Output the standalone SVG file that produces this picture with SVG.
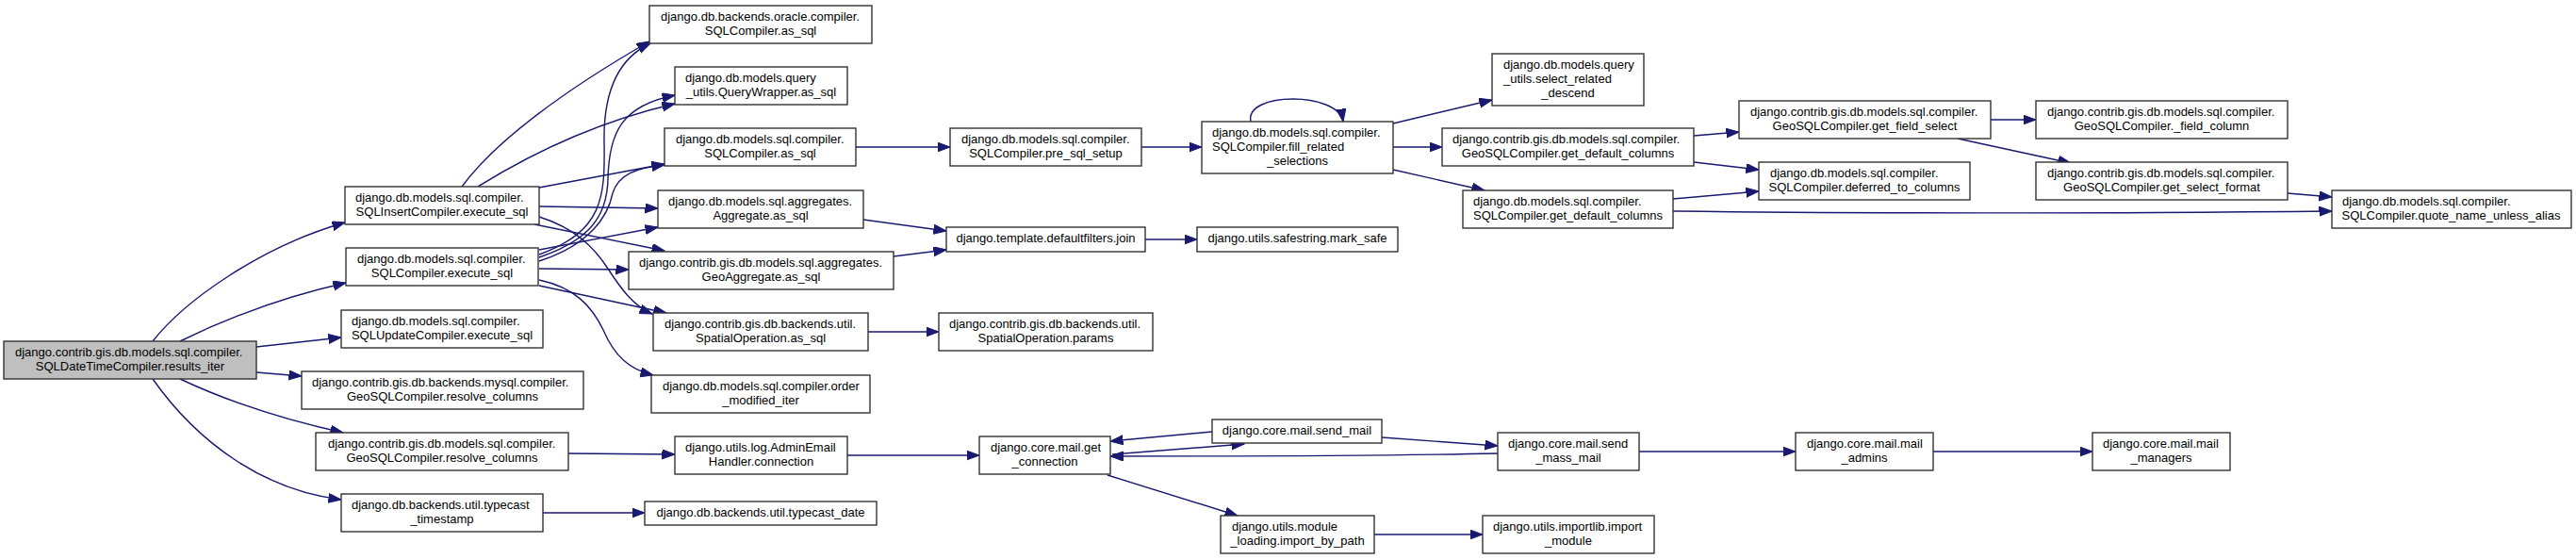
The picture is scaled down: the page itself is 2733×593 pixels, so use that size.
<svg xmlns="http://www.w3.org/2000/svg" width="2733" height="593" viewBox="0 0 2733 593">
<style>
.n rect{fill:#fff;stroke:#333;stroke-width:1.4}
.r rect{fill:#bfbfbf}
text{font-family:"Liberation Sans",Arial,Helvetica,sans-serif;font-size:13px;fill:#000}
.m{text-anchor:middle}
#edges path{fill:none;stroke:#191970;stroke-width:1.4;marker-end:url(#ah)}
</style>
<defs>
<marker id="ah" markerUnits="userSpaceOnUse" markerWidth="15" markerHeight="11" refX="13.5" refY="5" orient="auto">
<path d="M0,0 L13.5,5 L0,10 z" fill="#191970" stroke="#191970" stroke-width="1"/>
</marker>
</defs>
<rect width="2733" height="593" fill="#fff"/>
<g id="edges">
<path d="M162,362 C195,320 275,262 366,236"/>
<path d="M191,362 C240,338 300,315 367,300"/>
<path d="M272,368 L362,358"/>
<path d="M272,395 L320,399"/>
<path d="M191,402 C240,425 300,445 364,459"/>
<path d="M162,402 C210,470 280,520 362,530"/>
<path d="M490,198 C525,150 600,95 689,44"/>
<path d="M507,198 C560,165 630,130 716,110"/>
<path d="M572,199 L705,174"/>
<path d="M572,219 L698,221"/>
<path d="M572,230 C610,242 630,262 645,285 C658,305 672,325 692,333"/>
<path d="M567,238 L705,266"/>
<path d="M572,270 C640,245 642,210 641,150 C640,90 660,60 690,46"/>
<path d="M572,273 C625,255 644,230 645,190 C646,140 660,112 716,101"/>
<path d="M572,277 C625,260 645,230 650,205 C656,185 675,178 705,175"/>
<path d="M572,265 L698,241"/>
<path d="M572,285 L667,286"/>
<path d="M572,303 L707,332"/>
<path d="M572,297 C610,305 628,325 640,350 C652,378 668,392 693,398"/>
<path d="M908,156 L1008,156"/>
<path d="M1211,156 L1275,156"/>
<path d="M916,233 L1004,245"/>
<path d="M948,272 L1004,265"/>
<path d="M1215,254 L1270,254"/>
<path d="M921,352 L996,352"/>
<path d="M603,481 L716,482"/>
<path d="M899,483 L1039,483"/>
<path d="M576,544 L684,544"/>
<path d="M1286,458 L1178,468"/>
<path d="M1180,482 L1320,471"/>
<path d="M1466,464 L1589,473"/>
<path d="M1589,481 C1450,484 1300,484 1178,484"/>
<path d="M1175,504 L1313,547"/>
<path d="M1739,479 L1905,479"/>
<path d="M2051,479 L2220,479"/>
<path d="M1458,567 L1573,567"/>
<path d="M1327,129 C1320,97 1420,97 1425,129"/>
<path d="M1478,131 L1583,106"/>
<path d="M1478,156 L1530,156"/>
<path d="M1478,180 L1575,202"/>
<path d="M1797,144 L1845,140"/>
<path d="M1797,172 L1866,180"/>
<path d="M1775,211 L1866,203"/>
<path d="M1775,224 C2000,227 2300,226 2474,224"/>
<path d="M2112,127 L2160,127"/>
<path d="M2077,147 L2197,173"/>
<path d="M2427,205 L2474,209"/>
</g>
<g id="n0" class="n r"><rect x="4" y="362" width="268" height="40"/><text x="16" y="378">django.contrib.gis.db.models.sql.compiler.</text><text class="m" x="138" y="393">SQLDateTimeCompiler.results_iter</text></g>
<g id="n1" class="n"><rect x="366" y="198" width="206" height="40"/><text x="377" y="214">django.db.models.sql.compiler.</text><text class="m" x="469" y="229">SQLInsertCompiler.execute_sql</text></g>
<g id="n2" class="n"><rect x="367" y="263" width="204" height="40"/><text x="379" y="279">django.db.models.sql.compiler.</text><text class="m" x="469" y="294">SQLCompiler.execute_sql</text></g>
<g id="n3" class="n"><rect x="362" y="329" width="214" height="40"/><text x="373" y="345">django.db.models.sql.compiler.</text><text class="m" x="469" y="360">SQLUpdateCompiler.execute_sql</text></g>
<g id="n4" class="n"><rect x="320" y="394" width="299" height="40"/><text x="331" y="410">django.contrib.gis.db.backends.mysql.compiler.</text><text class="m" x="469.5" y="425">GeoSQLCompiler.resolve_columns</text></g>
<g id="n5" class="n"><rect x="335" y="459" width="268" height="40"/><text x="348" y="475">django.contrib.gis.db.models.sql.compiler.</text><text class="m" x="469" y="490">GeoSQLCompiler.resolve_columns</text></g>
<g id="n6" class="n"><rect x="362" y="524" width="214" height="40"/><text x="373" y="540">django.db.backends.util.typecast</text><text class="m" x="469" y="555">_timestamp</text></g>
<g id="n7" class="n"><rect x="689" y="6" width="236" height="40"/><text x="701" y="22">django.db.backends.oracle.compiler.</text><text class="m" x="807" y="37">SQLCompiler.as_sql</text></g>
<g id="n8" class="n"><rect x="716" y="71" width="183" height="40"/><text x="727" y="87">django.db.models.query</text><text class="m" x="807.5" y="102">_utils.QueryWrapper.as_sql</text></g>
<g id="n9" class="n"><rect x="705" y="136" width="203" height="40"/><text x="717" y="152">django.db.models.sql.compiler.</text><text class="m" x="806.5" y="167">SQLCompiler.as_sql</text></g>
<g id="n10" class="n"><rect x="698" y="202" width="218" height="40"/><text x="709" y="218">django.db.models.sql.aggregates.</text><text class="m" x="807" y="233">Aggregate.as_sql</text></g>
<g id="n11" class="n"><rect x="667" y="267" width="281" height="40"/><text x="678" y="283">django.contrib.gis.db.models.sql.aggregates.</text><text class="m" x="807.5" y="298">GeoAggregate.as_sql</text></g>
<g id="n12" class="n"><rect x="693" y="332" width="228" height="40"/><text x="705" y="348">django.contrib.gis.db.backends.util.</text><text class="m" x="807" y="363">SpatialOperation.as_sql</text></g>
<g id="n13" class="n"><rect x="691" y="398" width="232" height="40"/><text x="703" y="414">django.db.models.sql.compiler.order</text><text class="m" x="807" y="429">_modified_iter</text></g>
<g id="n14" class="n"><rect x="716" y="463" width="183" height="40"/><text x="727" y="479">django.utils.log.AdminEmail</text><text class="m" x="807.5" y="494">Handler.connection</text></g>
<g id="n15" class="n"><rect x="684" y="532" width="246" height="25"/><text class="m" x="807" y="547.5">django.db.backends.util.typecast_date</text></g>
<g id="n16" class="n"><rect x="1008" y="136" width="203" height="40"/><text x="1020" y="152">django.db.models.sql.compiler.</text><text class="m" x="1109.5" y="167">SQLCompiler.pre_sql_setup</text></g>
<g id="n17" class="n"><rect x="1004" y="241" width="211" height="26"/><text class="m" x="1109.5" y="256.5">django.template.defaultfilters.join</text></g>
<g id="n18" class="n"><rect x="996" y="332" width="227" height="40"/><text x="1007" y="348">django.contrib.gis.db.backends.util.</text><text class="m" x="1109.5" y="363">SpatialOperation.params</text></g>
<g id="n19" class="n"><rect x="1039" y="463" width="139" height="40"/><text x="1051" y="479">django.core.mail.get</text><text class="m" x="1108.5" y="494">_connection</text></g>
<g id="n20" class="n"><rect x="1275" y="129" width="203" height="55"/><text x="1286" y="145">django.db.models.sql.compiler.</text><text x="1286" y="160">SQLCompiler.fill_related</text><text class="m" x="1376.5" y="175">_selections</text></g>
<g id="n21" class="n"><rect x="1270" y="241" width="213" height="26"/><text class="m" x="1376.5" y="256.5">django.utils.safestring.mark_safe</text></g>
<g id="n22" class="n"><rect x="1286" y="445" width="180" height="25"/><text class="m" x="1376" y="460.5">django.core.mail.send_mail</text></g>
<g id="n23" class="n"><rect x="1295" y="547" width="163" height="40"/><text x="1307" y="563">django.utils.module</text><text class="m" x="1376.5" y="578">_loading.import_by_path</text></g>
<g id="n24" class="n"><rect x="1583" y="57" width="161" height="55"/><text x="1595" y="73">django.db.models.query</text><text x="1595" y="88">_utils.select_related</text><text class="m" x="1663.5" y="103">_descend</text></g>
<g id="n25" class="n"><rect x="1530" y="136" width="267" height="40"/><text x="1541" y="152">django.contrib.gis.db.models.sql.compiler.</text><text class="m" x="1663.5" y="167">GeoSQLCompiler.get_default_columns</text></g>
<g id="n26" class="n"><rect x="1552" y="202" width="223" height="40"/><text x="1563" y="218">django.db.models.sql.compiler.</text><text class="m" x="1663.5" y="233">SQLCompiler.get_default_columns</text></g>
<g id="n27" class="n"><rect x="1589" y="459" width="150" height="40"/><text x="1600" y="475">django.core.mail.send</text><text class="m" x="1664" y="490">_mass_mail</text></g>
<g id="n28" class="n"><rect x="1573" y="547" width="182" height="40"/><text x="1584" y="563">django.utils.importlib.import</text><text class="m" x="1664" y="578">_module</text></g>
<g id="n29" class="n"><rect x="1845" y="107" width="267" height="40"/><text x="1857" y="123">django.contrib.gis.db.models.sql.compiler.</text><text class="m" x="1978.5" y="138">GeoSQLCompiler.get_field_select</text></g>
<g id="n30" class="n"><rect x="1866" y="172" width="224" height="40"/><text x="1878" y="188">django.db.models.sql.compiler.</text><text class="m" x="1978" y="203">SQLCompiler.deferred_to_columns</text></g>
<g id="n31" class="n"><rect x="1905" y="459" width="146" height="40"/><text x="1917" y="475">django.core.mail.mail</text><text class="m" x="1978" y="490">_admins</text></g>
<g id="n32" class="n"><rect x="2160" y="107" width="267" height="40"/><text x="2172" y="123">django.contrib.gis.db.models.sql.compiler.</text><text class="m" x="2293.5" y="138">GeoSQLCompiler._field_column</text></g>
<g id="n33" class="n"><rect x="2160" y="172" width="267" height="40"/><text x="2172" y="188">django.contrib.gis.db.models.sql.compiler.</text><text class="m" x="2293.5" y="203">GeoSQLCompiler.get_select_format</text></g>
<g id="n34" class="n"><rect x="2220" y="459" width="146" height="40"/><text x="2231" y="475">django.core.mail.mail</text><text class="m" x="2293" y="490">_managers</text></g>
<g id="n35" class="n"><rect x="2474" y="202" width="254" height="40"/><text x="2485" y="218">django.db.models.sql.compiler.</text><text class="m" x="2600.5" y="233">SQLCompiler.quote_name_unless_alias</text></g>
</svg>
